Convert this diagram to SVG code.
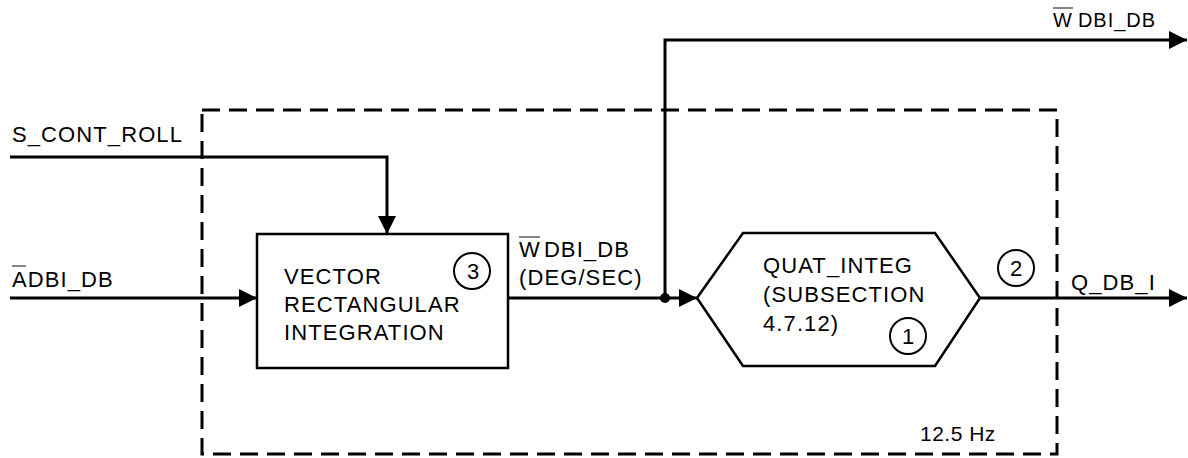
<svg xmlns="http://www.w3.org/2000/svg" width="1188" height="458" viewBox="0 0 1188 458">
<style>
  text { font-family: "Liberation Sans", Arial, sans-serif; font-size: 22px; letter-spacing: 1.1px; fill: #000; }
  .ln { fill: none; stroke: #000; stroke-width: 3; }
  .shape { fill: #fff; stroke: #000; stroke-width: 2.5; }
  .circ { fill: none; stroke: #000; stroke-width: 2; }
  .ov { stroke: #444; stroke-width: 1.3; }
  .dash { fill: none; stroke: #000; stroke-width: 3; stroke-dasharray: 18 9; }
  .num { text-anchor: middle; letter-spacing: 0; }
</style>
<defs>
  <marker id="arr" markerUnits="userSpaceOnUse" markerWidth="20" markerHeight="20" refX="18" refY="9" orient="auto">
    <path d="M0,0 L18,9 L0,18 Z" fill="#000"/>
  </marker>
</defs>
<rect width="1188" height="458" fill="#fff"/>

<!-- rate boundary -->
<g id="rate-boundary">
  <rect class="dash" x="202" y="110" width="855" height="344"/>
  <text x="920" y="441" style="font-size:21px;letter-spacing:0.5px">12.5 Hz</text>
</g>

<!-- connectors -->
<g id="connectors">
  <polyline class="ln" points="10,157 387,157 387,234" marker-end="url(#arr)"/>
  <line class="ln" x1="10" y1="298" x2="257" y2="298" marker-end="url(#arr)"/>
  <line class="ln" x1="508" y1="298" x2="697" y2="298" marker-end="url(#arr)"/>
  <polyline class="ln" points="665,298 665,40 1187,40" marker-end="url(#arr)"/>
  <circle cx="665" cy="298" r="5" fill="#000"/>
  <line class="ln" x1="980" y1="298" x2="1187" y2="298" marker-end="url(#arr)"/>
</g>

<!-- labels -->
<g id="labels">
  <text x="12" y="142">S_CONT_ROLL</text>
  <text x="12" y="287">ADBI_DB</text>
  <line class="ov" x1="12" y1="266" x2="26" y2="266"/>
  <text x="519" y="257">W<tspan dx="3">DBI_DB</tspan></text>
  <line class="ov" x1="519" y1="237" x2="540" y2="237"/>
  <text x="519" y="285">(DEG/SEC)</text>
  <text x="1053" y="27" style="font-size:20px;letter-spacing:1px">W<tspan dx="5">DBI_DB</tspan></text>
  <line class="ov" x1="1053" y1="8" x2="1073" y2="8"/>
  <text x="1071" y="290">Q_DB_I</text>
</g>

<!-- node: vector rectangular integration -->
<g id="node-vector-integration">
  <rect class="shape" x="257" y="234" width="251" height="134"/>
  <text x="284" y="284">VECTOR</text>
  <text x="284" y="312">RECTANGULAR</text>
  <text x="284" y="340">INTEGRATION</text>
  <circle class="circ" cx="472" cy="271" r="18"/>
  <text class="num" x="473" y="279">3</text>
</g>

<!-- node: quat_integ -->
<g id="node-quat-integ">
  <polygon class="shape" points="697,298 743,233 935,233 980,298 935,366 743,366"/>
  <text x="763" y="273">QUAT_INTEG</text>
  <text x="763" y="302">(SUBSECTION</text>
  <text x="763" y="331">4.7.12)</text>
  <circle class="circ" cx="908" cy="336" r="18"/>
  <text class="num" x="908" y="344">1</text>
</g>

<!-- marker 2 -->
<g id="marker-2">
  <circle class="circ" cx="1016" cy="268" r="18"/>
  <text class="num" x="1016" y="276">2</text>
</g>
</svg>
